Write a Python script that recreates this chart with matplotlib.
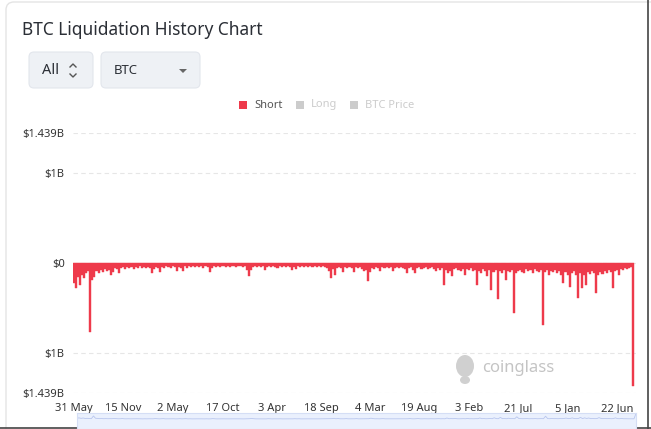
import matplotlib.pyplot as plt
import numpy as np
import pandas as pd
from matplotlib.patches import FancyBboxPatch, Rectangle, Ellipse, Polygon

plt.rcParams['font.family'] = ['Noto Sans', 'DejaVu Sans']

# weekly short liquidations in $M (first week 31 May 2019)
short_2019_20 = [220, 280, 160, 245, 130, 165, 110, 90, 760, 185, 150, 90, 110, 75,
                 100, 70, 90, 80, 135, 100, 60, 65, 110, 55, 45, 65, 45, 55, 40, 65,
                 45, 50, 35, 55, 40, 60, 45, 50, 110, 65, 40, 55, 95, 40, 50, 35, 45,
                 60, 35, 45, 85, 40, 50, 85, 35, 55, 30, 40, 30, 45]
short_2020_21 = [30, 40, 30, 50, 30, 40, 95, 50, 30, 40, 30, 45, 30, 35, 40, 30, 40,
                 30, 35, 45, 30, 30, 40, 35, 75, 145, 75, 40, 35, 45, 30, 40, 30, 75,
                 40, 30, 45, 30, 40, 55, 30, 40, 30, 40, 35, 40, 75, 40, 65, 30, 40,
                 30, 40, 35, 45, 30, 40, 35, 40, 30, 45, 30, 40]
short_2021_22 = [55, 90, 165, 65, 130, 55, 45, 55, 95, 45, 50, 40, 55, 95, 45, 55, 40,
                 65, 85, 75, 200, 100, 55, 65, 45, 55, 90, 45, 50, 45, 55, 40, 90, 50,
                 45, 55, 40, 55, 65, 110, 55, 45, 75, 110, 55, 45, 65, 55, 45, 65, 55,
                 45, 65, 90, 55, 75, 55]
short_2023_24 = [245, 75, 110, 85, 145, 65, 55, 75, 90, 65, 135, 65, 75, 55, 85, 75,
                 245, 85, 110, 65, 85, 145, 75, 300, 100, 75, 400, 85, 110, 75, 190,
                 85, 100, 75, 555, 110, 85, 75, 100, 110, 65, 85, 75, 110, 65, 90, 100,
                 75, 690, 100, 75, 135, 90, 100, 75, 110, 90, 135, 220, 100, 135, 265,
                 110, 90, 135, 390, 110, 280, 135, 245, 100, 120, 90, 110, 335, 135,
                 100, 120, 90, 110, 75, 100, 280, 90, 75, 135, 65, 75, 55, 65, 55, 45,
                 1360]
short_m = np.array(short_2019_20 + short_2020_21 + short_2021_22 + short_2023_24)
dates = pd.date_range('2019-05-31', periods=len(short_m), freq='7D')

tick_dates = pd.to_datetime(['2019-05-31', '2019-11-15', '2020-05-02', '2020-10-17',
                             '2021-04-03', '2021-09-18', '2022-03-04', '2022-08-19',
                             '2023-02-03', '2023-07-21', '2024-01-05', '2024-06-22'])
tick_labels = ['31 May', '15 Nov', '2 May', '17 Oct', '3 Apr', '18 Sep', '4 Mar',
               '19 Aug', '3 Feb', '21 Jul', '5 Jan', '22 Jun']
y_ticks = [1.439e9, 1e9, 0, -1e9, -1.439e9]
y_labels = ['$1.439B', '$1B', '$0', '$1B', '$1.439B']

W, H = 651, 429
fig = plt.figure(figsize=(W / 100, H / 100), dpi=100)

# overlay in pixel coords for the card, title, buttons, legend, watermark
ov = fig.add_axes([0, 0, 1, 1], zorder=0)
ov.set_xlim(0, W)
ov.set_ylim(H, 0)
ov.axis('off')
ov.add_patch(FancyBboxPatch((6, 2), 660, 460, boxstyle='round,pad=0,rounding_size=8',
                            fc='white', ec='#e4e4e4', lw=1))
ov.plot([648, 648], [0, H], color='#444444', lw=1.2)
ov.plot([0, W], [428, 428], color='#444444', lw=1.2)
ov.text(22, 30, 'BTC Liquidation History Chart', fontsize=12.5, fontweight='semibold',
        color='#2b2f36', va='center')
for x0, w in [(29, 64), (101, 99)]:
    ov.add_patch(FancyBboxPatch((x0, 52), w, 36, boxstyle='round,pad=0,rounding_size=5',
                                fc='#eef1f5', ec='#e2e6ec', lw=0.8))
ov.text(42, 71, 'All', fontsize=10.5, color='#2b2f36', va='center')
ov.plot([70, 73, 76], [67, 64, 67], color='#555555', lw=1)
ov.plot([70, 73, 76], [74, 77, 74], color='#555555', lw=1)
ov.text(114, 71, 'BTC', fontsize=9.5, color='#2b2f36', va='center')
ov.add_patch(Polygon([[179, 69], [187, 69], [183, 73]], closed=True, fc='#666666'))

# legend
ov.add_patch(Rectangle((239, 101), 8, 8, fc='#ee3a4b'))
ov.text(254, 105, 'Short', fontsize=8, color='#555555', va='center')
ov.add_patch(Rectangle((296, 101), 8, 8, fc='#cccccc'))
ov.text(311, 105, 'Long', fontsize=8, color='#cccccc', va='center')
ov.add_patch(Rectangle((350, 101), 8, 8, fc='#cccccc'))
ov.text(365, 105, 'BTC Price', fontsize=8, color='#cccccc', va='center')

# watermark
ov.add_patch(Ellipse((465, 366), 18, 22, fc='#d0d0d0', ec='none'))
ov.add_patch(Ellipse((465, 380), 10, 8, fc='#d0d0d0', ec='none'))
ov.text(482, 368, 'coinglass', fontsize=12, fontweight='bold', color='#c4c4c4',
        va='center')

# main chart
ax = fig.add_axes([73 / W, 1 - 393 / H, (636 - 73) / W, (393 - 133) / H], zorder=1)
ax.patch.set_alpha(0)
ax.bar(dates, -short_m * 1e6, width=7, color='#ee3a4b', edgecolor='#ee3a4b',
       linewidth=0.3, zorder=2)
ax.set_ylim(-1.439e9, 1.439e9)
ax.set_xlim(dates[0] - pd.Timedelta(days=3), dates[0] + pd.Timedelta(days=1913))
ax.set_yticks(y_ticks)
ax.set_yticklabels(y_labels)
ax.set_xticks(tick_dates)
ax.set_xticklabels(tick_labels)
ax.tick_params(axis='both', length=0, labelsize=8, colors='#333333')
ax.tick_params(axis='y', pad=6)
ax.tick_params(axis='x', pad=7)
for sp in ax.spines.values():
    sp.set_visible(False)
ax.grid(axis='y', color='#e6e6e6', linestyle=(0, (4, 3)), linewidth=0.8, zorder=0)

# data zoom slider at the bottom (cut off)
sl = fig.add_axes([77 / W, 0, (636 - 77) / W, (429 - 413) / H], zorder=1)
sl.set_facecolor('#eaf0fd')
sl.plot(dates, short_m, color='#b8c6ee', lw=0.6)
sl.set_xlim(dates[0], dates[-1])
sl.set_ylim(-2500, 1500)
sl.set_xticks([])
sl.set_yticks([])
for sp in sl.spines.values():
    sp.set_color('#d5def5')

plt.savefig('out.png', dpi=100)
